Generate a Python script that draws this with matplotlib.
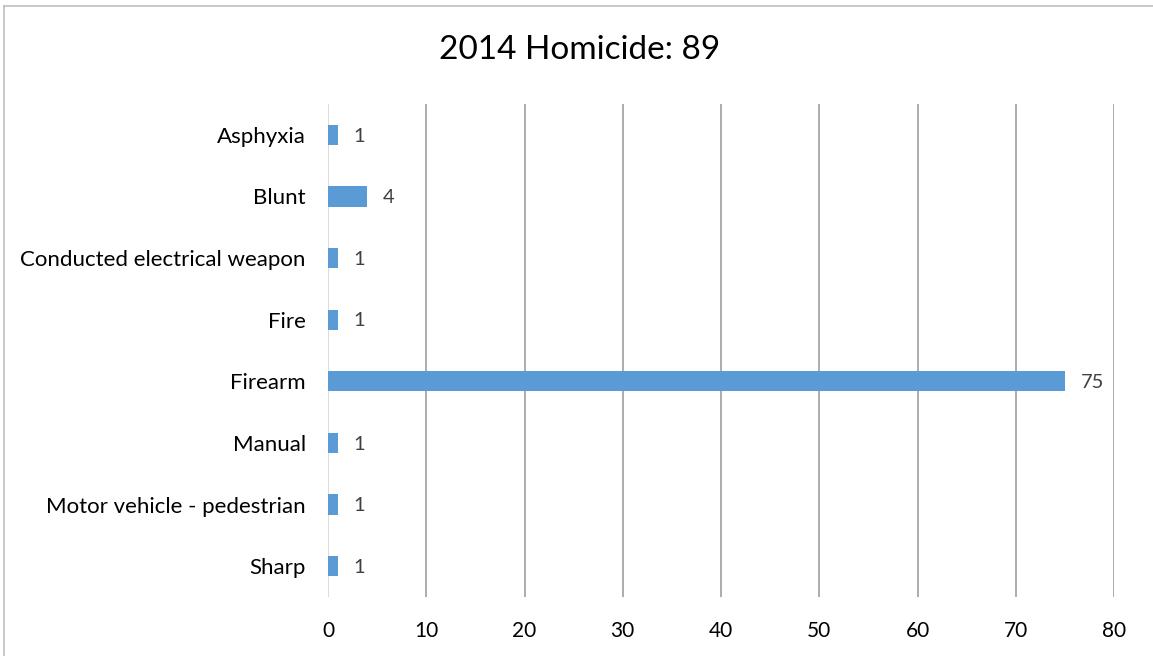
import matplotlib.pyplot as plt
from matplotlib.lines import Line2D

categories = ["Asphyxia", "Blunt", "Conducted electrical weapon", "Fire",
              "Firearm", "Manual", "Motor vehicle - pedestrian", "Sharp"]
counts = [1, 4, 1, 1, 75, 1, 1, 1]
xticks = [0, 10, 20, 30, 40, 50, 60, 70, 80]

plt.rcParams['font.family'] = ['Lato', 'DejaVu Sans']

fig = plt.figure(figsize=(11.53, 6.56), dpi=100)
ax = fig.add_axes([328 / 1153, 1 - 597 / 656, (1114 - 328) / 1153, (597 - 104) / 656])

ypos = list(range(len(categories)))
ax.barh(ypos, counts, height=0.33, color="#5B9BD5", zorder=3)
for y, v in zip(ypos, counts):
    ax.text(v + 1.6, y + 0.02, str(v), va="center", ha="left", fontsize=14.5, color="#404040")

ax.set_ylim(len(categories) - 0.5, -0.5)
ax.set_xlim(0, 80)
ax.set_yticks(ypos)
ax.set_yticklabels(categories, fontsize=16)
ax.set_xticks(xticks)
ax.set_xticklabels([str(t) for t in xticks], fontsize=15)
ax.tick_params(length=0, pad=17)
ax.tick_params(axis="y", pad=16)
ax.grid(axis="x", color="#A6A6A6", linewidth=1.3, zorder=0)
ax.xaxis.get_gridlines()[0].set_color("#D9D9D9")
for s in ax.spines.values():
    s.set_visible(False)

fig.text(580 / 1153, 1 - 50 / 656, "2014 Homicide: 89", ha="center", va="center", fontsize=24)

# chart frame (left and top edges visible)
fig.add_artist(Line2D([3.5 / 1153, 3.5 / 1153], [0, 1 - 6 / 656], transform=fig.transFigure, color="#BFBFBF", lw=1.2))
fig.add_artist(Line2D([3.5 / 1153, 1], [1 - 6 / 656, 1 - 6 / 656], transform=fig.transFigure, color="#BFBFBF", lw=1.2))

fig.savefig("out.png", dpi=100)
